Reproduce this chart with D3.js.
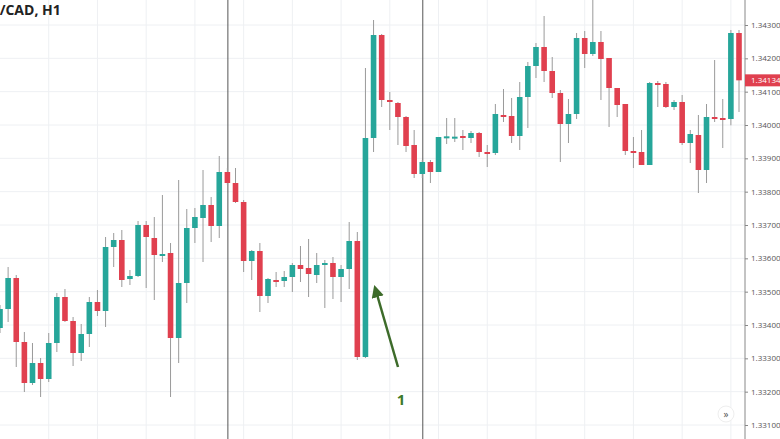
<!DOCTYPE html>
<html>
<head>
<meta charset="utf-8">
<script src="https://cdn.jsdelivr.net/npm/d3@7"></script>
<style>
  body { margin: 0; background: #fff; overflow: hidden; }
  text { font-family: "Open Sans", "DejaVu Sans", sans-serif; }
</style>
</head>
<body>
<div id="viz"></div>
<script>
/* DATA (prices) */
const opens = [1.33391,1.33448,1.33541,1.33349,1.33226,1.33286,1.33238,1.33346,1.33484,1.33412,
  1.33316,1.33373,1.33469,1.33442,1.33634,1.33655,1.33538,1.33547,1.33700,1.33661,
  1.33610,1.33616,1.33361,1.33526,1.33691,1.33721,1.33760,1.33697,1.33859,1.33826,
  1.33769,1.33592,1.33622,1.33487,1.33535,1.33532,1.33544,1.33580,1.33571,1.33550,
  1.33580,1.33586,1.33544,1.33568,1.33652,1.33304,1.33961,1.34270,1.34075,1.34066,
  1.34024,1.33940,1.33853,1.33889,1.33859,1.33964,1.33964,1.33967,1.33961,1.33976,
  1.33919,1.33916,1.34030,1.34027,1.33967,1.34084,1.34177,1.34234,1.34162,1.34096,
  1.34003,1.34033,1.34261,1.34213,1.34249,1.34201,1.34111,1.34063,1.33922,1.33919,
  1.33880,1.34126,1.34123,1.34054,1.34069,1.33946,1.33970,1.33865,1.34024,1.34021,
  1.34018,1.34276];
const highs = [1.33460,1.33574,1.33550,1.33379,1.33346,1.33301,1.33376,1.33496,1.33508,1.33424,
  1.33403,1.33484,1.33505,1.33664,1.33676,1.33685,1.33565,1.33712,1.33712,1.33724,
  1.33790,1.33646,1.33835,1.33748,1.33751,1.33865,1.33784,1.33907,1.33871,1.33871,
  1.33775,1.33625,1.33646,1.33541,1.33559,1.33562,1.33586,1.33637,1.33658,1.33616,
  1.33595,1.33604,1.33580,1.33709,1.33679,1.34171,1.34315,1.34273,1.34099,1.34069,
  1.34027,1.33985,1.33895,1.33895,1.33964,1.34021,1.34021,1.33985,1.33982,1.33979,
  1.33940,1.34063,1.34108,1.34081,1.34129,1.34189,1.34246,1.34327,1.34204,1.34105,
  1.34078,1.34276,1.34282,1.34375,1.34282,1.34201,1.34111,1.34063,1.33964,1.33985,
  1.34129,1.34132,1.34129,1.34075,1.34090,1.33985,1.34030,1.34063,1.34195,1.34078,
  1.34285,1.34285];
const lows = [1.33376,1.33409,1.33274,1.33199,1.33220,1.33184,1.33229,1.33319,1.33409,1.33277,
  1.33292,1.33334,1.33427,1.33394,1.33574,1.33514,1.33520,1.33544,1.33511,1.33475,
  1.33589,1.33184,1.33286,1.33466,1.33646,1.33589,1.33649,1.33661,1.33820,1.33766,
  1.33559,1.33535,1.33439,1.33466,1.33514,1.33514,1.33499,1.33529,1.33484,1.33526,
  1.33451,1.33478,1.33469,1.33508,1.33295,1.33301,1.33919,1.34054,1.33985,1.33940,
  1.33919,1.33841,1.33841,1.33826,1.33859,1.33943,1.33949,1.33925,1.33946,1.33904,
  1.33874,1.33910,1.34009,1.33946,1.33925,1.33991,1.34141,1.34129,1.34081,1.33889,
  1.33946,1.34018,1.34171,1.34207,1.34075,1.33994,1.34024,1.33910,1.33871,1.33880,
  1.33880,1.34054,1.34051,1.34045,1.33940,1.33886,1.33796,1.33826,1.34009,1.33931,
  1.33999,1.34039];
const closes = [1.33448,1.33541,1.33349,1.33226,1.33286,1.33238,1.33346,1.33484,1.33412,1.33316,
  1.33373,1.33469,1.33442,1.33634,1.33655,1.33535,1.33547,1.33700,1.33664,1.33610,
  1.33613,1.33361,1.33526,1.33691,1.33724,1.33760,1.33697,1.33859,1.33826,1.33769,
  1.33592,1.33622,1.33487,1.33538,1.33532,1.33544,1.33580,1.33568,1.33553,1.33580,
  1.33586,1.33544,1.33568,1.33652,1.33304,1.33961,1.34270,1.34075,1.34069,1.34024,
  1.33937,1.33853,1.33889,1.33859,1.33964,1.33966,1.33965,1.33961,1.33976,1.33919,
  1.33916,1.34033,1.34027,1.33967,1.34084,1.34177,1.34234,1.34162,1.34096,1.34003,
  1.34033,1.34261,1.34213,1.34249,1.34198,1.34111,1.34060,1.33922,1.33921,1.33880,
  1.34126,1.34125,1.34054,1.34069,1.33946,1.33973,1.33865,1.34024,1.34020,1.34018,
  1.34276,1.34134];
const priceTicks = [1.343,1.342,1.341,1.340,1.339,1.338,1.337,1.336,1.335,1.334,1.333,1.332,1.331];
const sessionBreaks = [28, 52];
const lastPrice = 1.34134;

const width = 780, height = 439;
const plotRight = 745;
const green = "#26a69a", red = "#e0404f";

let svg = d3.select("#viz").append("svg")
  .attr("width", width).attr("height", height);

const candles = opens.map((o, i) => ({ i, o, h: highs[i], l: lows[i], c: closes[i] }));

// 1 candle ~ 8.12px, first centered on x=0
const xScale = d3.scaleLinear().domain([0, 91]).range([0, 739]);
const yScale = d3.scaleLinear().domain([1.331, 1.343]).range([425, 25]);

// grid
const gridX = d3.range(6, 92, 6);
svg.append("g").selectAll("line").data(gridX).join("line")
  .attr("x1", d => xScale(d)).attr("x2", d => xScale(d))
  .attr("y1", 0).attr("y2", height)
  .attr("stroke", "#eef0f3");
svg.append("g").selectAll("line").data(priceTicks).join("line")
  .attr("x1", 0).attr("x2", plotRight)
  .attr("y1", d => yScale(d)).attr("y2", d => yScale(d))
  .attr("stroke", "#eef0f3");

// session separators
svg.append("g").selectAll("line").data(sessionBreaks).join("line")
  .attr("x1", d => xScale(d) + 0.5).attr("x2", d => xScale(d) + 0.5)
  .attr("y1", 0).attr("y2", height)
  .attr("stroke", "#555").attr("stroke-width", 1);

// candles
const g = svg.append("g");
g.selectAll(".wick").data(candles).join("line")
  .attr("x1", d => xScale(d.i)).attr("x2", d => xScale(d.i))
  .attr("y1", d => yScale(d.h)).attr("y2", d => yScale(d.l))
  .attr("stroke", "#9a9a9a").attr("stroke-width", 1);
g.selectAll(".body").data(candles).join("rect")
  .attr("x", d => xScale(d.i) - 2.8).attr("width", 5.6)
  .attr("y", d => yScale(Math.max(d.o, d.c)))
  .attr("height", d => Math.max(2, Math.abs(yScale(d.o) - yScale(d.c))))
  .attr("fill", d => d.c >= d.o ? green : red);

// price axis
const yAxis = d3.axisRight(yScale).tickValues(priceTicks)
  .tickFormat(d3.format(".5f")).tickSize(3);
const ax = svg.append("g").attr("transform", `translate(${plotRight},0)`).call(yAxis);
ax.select(".domain").remove();
ax.append("line").attr("y1", 0).attr("y2", height).attr("stroke", "#888");
ax.selectAll(".tick line").attr("stroke", "#888");
ax.selectAll(".tick text").attr("fill", "#555").attr("font-size", 8)
  .attr("font-family", "Open Sans, sans-serif");

// last price label
svg.append("rect").attr("x", plotRight).attr("y", yScale(lastPrice) - 6)
  .attr("width", 35).attr("height", 12).attr("fill", "#e0404f");
svg.append("text").attr("x", plotRight + 6).attr("y", yScale(lastPrice) + 3)
  .attr("fill", "#fff").attr("font-size", 8).text(d3.format(".5f")(lastPrice));

// title
svg.append("text").attr("x", -29).attr("y", 15)
  .attr("font-size", 14).attr("font-weight", "bold").attr("fill", "#222")
  .text("USD/CAD, H1");

// annotation arrow
svg.append("defs").append("marker").attr("id", "ah")
  .attr("viewBox", "0 0 10 10").attr("refX", 5).attr("refY", 5)
  .attr("markerWidth", 5).attr("markerHeight", 5).attr("orient", "auto")
  .append("path").attr("d", "M0,0 L10,5 L0,10 Z").attr("fill", "#3d6b2a");
svg.append("line").attr("x1", 398).attr("y1", 367).attr("x2", 376).attr("y2", 291)
  .attr("stroke", "#3d6b2a").attr("stroke-width", 2.5).attr("marker-end", "url(#ah)");
svg.append("text").attr("x", 401).attr("y", 405).attr("text-anchor", "middle")
  .attr("font-size", 15).attr("font-weight", "bold").attr("fill", "#3d7a2a").text("1");

// scroll button
svg.append("circle").attr("cx", 726).attr("cy", 414).attr("r", 8).attr("fill", "#fff").attr("stroke", "#eee");
svg.append("text").attr("x", 726).attr("y", 418).attr("text-anchor", "middle")
  .attr("font-size", 10).attr("fill", "#555").text("»");
</script>
</body>
</html>
